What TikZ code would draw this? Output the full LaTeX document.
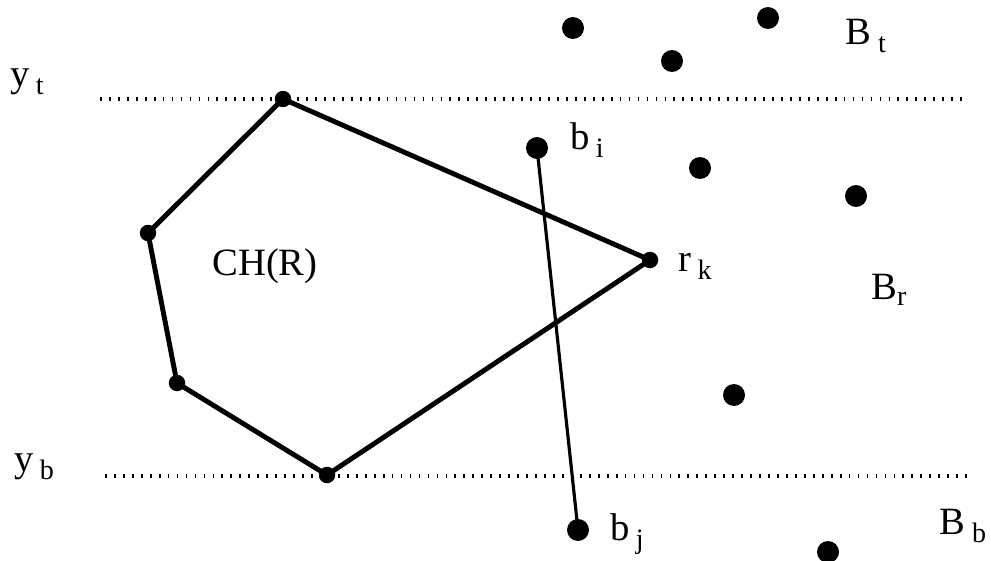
\documentclass[tikz,border=0pt]{standalone}
\usepackage{fontspec}
\setmainfont{Liberation Serif}
\newcommand{\lowidx}[1]{\,\raisebox{-0.45ex}{\fontsize{16}{16}\selectfont #1}}
\tikzset{
  bluept/.style={circle, fill=black, inner sep=0pt, minimum size=0.44cm},
  redpt/.style={circle, fill=black, inner sep=0pt, minimum size=0.33cm},
  hull/.style={line width=2.8pt},
  segment/.style={line width=1.8pt},
  level/.style={line width=2.6pt, dash pattern=on 1pt off 4.1pt},
  lbl/.style={font=\fontsize{22}{26}\selectfont, inner sep=0pt}
}
\begin{document}
\begin{tikzpicture}[x=0.02cm, y=-0.02cm]
  \useasboundingbox (0,0) rectangle (991,561);
  % horizontal levels
  \coordinate (yt1) at (100,99);
  \coordinate (yt2) at (968,99);
  \coordinate (yb1) at (105,476);
  \coordinate (yb2) at (970,476);
  \draw[level] (yt1) -- (yt2);
  \draw[level] (yb1) -- (yb2);
  \node[lbl] (yt) at (27,82) {y\lowidx{t}};
  \node[lbl] (yb) at (34,467) {y\lowidx{b}};
  % red points and their hull
  \node[redpt] (r1) at (283,99) {};
  \node[redpt] (r2) at (148,233) {};
  \node[redpt] (r3) at (177,383) {};
  \node[redpt] (r4) at (327,475) {};
  \node[redpt] (rk) at (650,260) {};
  \draw[hull] (r1.center) -- (r2.center) -- (r3.center) -- (r4.center)
    -- (rk.center) -- cycle;
  \node[lbl] (ch) at (265,266) {CH(R)};
  \node[lbl] (rklbl) at (695,266) {r\lowidx{k}};
  % blue points
  \node[bluept] (t1) at (573,28) {};
  \node[bluept] (t2) at (672,61) {};
  \node[bluept] (t3) at (768,18) {};
  \node[bluept] (bi) at (537,148) {};
  \node[bluept] (m1) at (700,168) {};
  \node[bluept] (m2) at (856,196) {};
  \node[bluept] (m3) at (734,395) {};
  \node[bluept] (bj) at (578,530) {};
  \node[bluept] (d1) at (828,552) {};
  \draw[segment] (bi.center) -- (bj.center);
  \node[lbl] (bilbl) at (587,140) {b\lowidx{i}};
  \node[lbl] (bjlbl) at (627,534) {b\lowidx{j}};
  \node[lbl] (Bt) at (866,36) {B\lowidx{t}};
  \node[lbl] (Br) at (889,290) {B\raisebox{-0.3ex}{\fontsize{16}{16}\selectfont r}};
  \node[lbl] (Bb) at (963,526) {B\lowidx{b}};
\end{tikzpicture}
\end{document}
